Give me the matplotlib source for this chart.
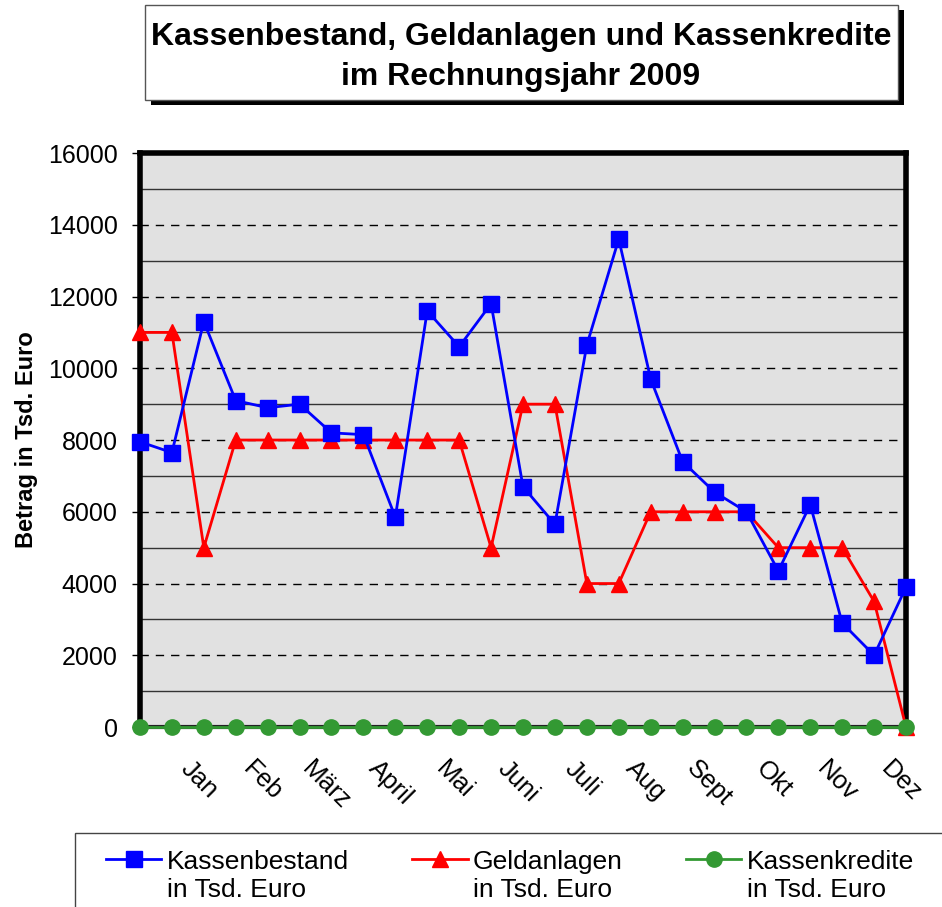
import matplotlib
matplotlib.use("Agg")
import matplotlib.pyplot as plt
import matplotlib.transforms as mtransforms
from matplotlib.patches import Rectangle

plt.rcParams['font.family'] = ['Liberation Sans', 'DejaVu Sans']

# Daten (Tsd. Euro), 25 Stichtage
kassenbestand = [7950, 7650, 11300, 9100, 8900, 9000, 8200, 8150, 5850, 11600,
                 10600, 11800, 6700, 5650, 10650, 13600, 9700, 7400, 6550, 6000,
                 4350, 6200, 2900, 2000, 3900]
geldanlagen = [11000, 11000, 5000, 8000, 8000, 8000, 8000, 8000, 8000, 8000,
               8000, 5000, 9000, 9000, 4000, 4000, 6000, 6000, 6000, 6000,
               5000, 5000, 5000, 3500, 0]
kassenkredite = [0] * 25
monate = ['Jan', 'Feb', 'März', 'April', 'Mai', 'Juni', 'Juli', 'Aug',
          'Sept', 'Okt', 'Nov', 'Dez']
monat_pos = [2, 4, 6, 8, 10, 12, 14, 16, 18, 20, 22, 24]

x = list(range(len(kassenbestand)))

fig = plt.figure(figsize=(9.42, 9.07), dpi=100)
ax = fig.add_axes([0.1486, 0.1984, 0.9618 - 0.1486, 0.8313 - 0.1984])
ax.set_facecolor('#e1e1e1')

# Gitterlinien: durchgezogen bei ungeraden, gestrichelt bei geraden Tausendern
for y in range(1000, 16000, 2000):
    ax.axhline(y, color='#333333', lw=1.0, zorder=1)
for y in range(2000, 16000, 2000):
    ax.axhline(y, color='black', lw=1.0, ls=(0, (6, 5)), zorder=1)

ax.plot(x, kassenbestand, color='#0000ff', lw=2, marker='s', ms=11.5,
        label='Kassenbestand\nin Tsd. Euro', zorder=4, clip_on=False)
ax.plot(x, geldanlagen, color='#ff0000', lw=2, marker='^', ms=11.5,
        label='Geldanlagen\nin Tsd. Euro', zorder=3, clip_on=False)
ax.plot(x, kassenkredite, color='#339933', lw=2, marker='o', ms=11,
        label='Kassenkredite\nin Tsd. Euro', zorder=5, clip_on=False)

ax.set_xlim(0, 24)
ax.set_ylim(0, 16000)
ax.set_yticks(range(0, 16001, 2000))
ax.tick_params(axis='y', labelsize=18, length=6, width=1, pad=10)
ax.set_xticks(x, minor=True)
ax.set_xticks(monat_pos)
ax.set_xticklabels(monate, rotation=-45, ha='center', va='top', fontsize=18.5)
ax.tick_params(axis='x', which='both', length=4, width=1, pad=17)
shift = mtransforms.ScaledTranslation(-5 / 100, 0, fig.dpi_scale_trans)
for lbl in ax.get_xticklabels():
    lbl.set_transform(lbl.get_transform() + shift)

for side in ['left', 'top', 'right']:
    ax.spines[side].set_linewidth(4)
ax.spines['bottom'].set_linewidth(3)
ax.spines['bottom'].set_color('#222222')

ax.set_ylabel('Betrag in Tsd. Euro', fontsize=17, fontweight='bold', labelpad=7)

# Titel mit Schatten
fig.patches.append(Rectangle((151 / 942, 1 - 105 / 907), 753 / 942, 95 / 907,
                             transform=fig.transFigure, facecolor='black',
                             edgecolor='none', zorder=1))
fig.patches.append(Rectangle((145 / 942, 1 - 100 / 907), 753 / 942, 95 / 907,
                             transform=fig.transFigure, facecolor='white',
                             edgecolor='#555555', lw=1, zorder=2))
fig.text(521 / 942, 1 - 57 / 907,
         'Kassenbestand, Geldanlagen und Kassenkredite\nim Rechnungsjahr 2009',
         ha='center', va='center', fontsize=23, fontweight='bold',
         linespacing=1.4, zorder=3)

# Legendenrahmen (reicht über den Bildrand hinaus)
fig.patches.append(Rectangle((75 / 942, 1 - 940 / 907), 900 / 942, 107 / 907,
                             transform=fig.transFigure, facecolor='white',
                             edgecolor='#444444', lw=1, zorder=1))
leg = fig.legend(loc='upper left', bbox_to_anchor=(106 / 942, 1 - 850 / 907),
                 ncol=3, fontsize=19, frameon=False, borderpad=0,
                 borderaxespad=0, handlelength=2.1, handletextpad=0.2,
                 columnspacing=2.4, labelspacing=0.2)
leg.set_zorder(2)
for col in leg._legend_handle_box.get_children():
    for item in col.get_children():
        item.align = 'top'

fig.savefig('out.png', dpi=100)
